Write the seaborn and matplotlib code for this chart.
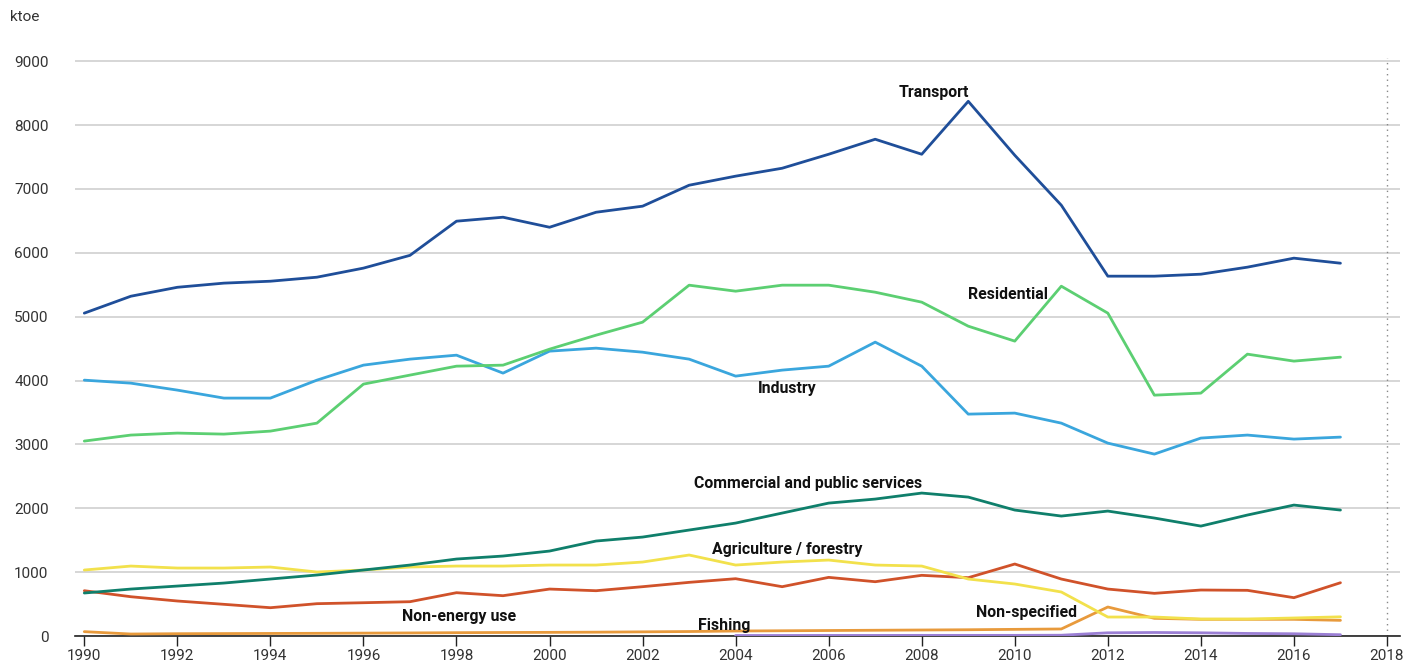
import numpy as np
import pandas as pd
import matplotlib
matplotlib.use("Agg")
import matplotlib.pyplot as plt
import seaborn as sns

years = list(range(1990, 2018))

transport = [5055, 5320, 5460, 5525, 5555, 5618, 5760, 5960, 6495, 6557,
             6400, 6635, 6730, 7058, 7200, 7324, 7543, 7778, 7543, 8372,
             7527, 6745, 5634, 5634, 5665, 5775, 5916, 5837]
residential = [3052, 3146, 3177, 3161, 3208, 3333, 3944, 4085, 4225, 4241,
               4491, 4710, 4914, 5493, 5399, 5493, 5493, 5383, 5227, 4851,
               4617, 5477, 5055, 3771, 3803, 4413, 4304, 4366]
industry = [4006, 3959, 3850, 3725, 3725, 4006, 4241, 4335, 4397, 4116,
            4460, 4507, 4444, 4335, 4069, 4163, 4225, 4601, 4225, 3474,
            3490, 3333, 3020, 2848, 3099, 3146, 3083, 3114]
commercial = [673, 735, 782, 829, 892, 955, 1033, 1111, 1205, 1252,
              1330, 1487, 1549, 1659, 1768, 1925, 2081, 2144, 2238, 2175,
              1972, 1878, 1956, 1847, 1721, 1894, 2050, 1972]
agriculture = [1033, 1095, 1064, 1064, 1080, 1002, 1033, 1080, 1095, 1095,
               1111, 1111, 1158, 1268, 1111, 1158, 1189, 1111, 1095, 892,
               814, 689, 297, 297, 266, 266, 282, 300]
non_energy = [709, 615, 548, 496, 443, 506, 521, 537, 678, 631,
              735, 709, 772, 840, 897, 772, 918, 850, 950, 913,
              1127, 892, 735, 668, 720, 715, 600, 834]
non_specified = [68, 31, 36, 38, 40, 42, 45, 48, 52, 55,
                 57, 60, 65, 70, 78, 82, 86, 90, 94, 98,
                 104, 110, 454, 277, 261, 261, 261, 245]
fishing = [np.nan] * 14 + [8, 8, 9, 9, 10, 10, 10, 12, 50, 55, 50, 40, 35, 20]

series = {
    "Transport": transport,
    "Residential": residential,
    "Industry": industry,
    "Commercial and public services": commercial,
    "Agriculture / forestry": agriculture,
    "Non-energy use": non_energy,
    "Non-specified": non_specified,
    "Fishing": fishing,
}
colors = {
    "Transport": "#1f4e99",
    "Residential": "#5ccf72",
    "Industry": "#3aa6dd",
    "Commercial and public services": "#0f7f6b",
    "Agriculture / forestry": "#f2e14c",
    "Non-energy use": "#d0522a",
    "Non-specified": "#e89a3c",
    "Fishing": "#9b7fd4",
}
# label positions (year, value)
label_pos = {
    "Transport": (2008.25, 8510),
    "Residential": (2009.85, 5340),
    "Industry": (2005.1, 3880),
    "Commercial and public services": (2005.55, 2380),
    "Agriculture / forestry": (2005.1, 1360),
    "Non-energy use": (1998.05, 300),
    "Fishing": (2003.75, 170),
    "Non-specified": (2010.25, 375),
}

df = pd.DataFrame([
    {"year": y, "sector": name, "ktoe": v}
    for name, vals in series.items() for y, v in zip(years, vals)
])

sns.set_theme(style="white")
plt.rcParams["font.family"] = ["Roboto", "DejaVu Sans"]

fig = plt.figure(figsize=(14.1, 6.65), dpi=100)
ax = fig.add_axes([75 / 1410, 29 / 665, 1325 / 1410, (636 - 58) / 665])

sns.lineplot(data=df, x="year", y="ktoe", hue="sector", palette=colors,
             hue_order=list(series.keys())[::-1], linewidth=2, legend=False,
             ax=ax, zorder=3)

for name, (x, y) in label_pos.items():
    ax.text(x, y, name, ha="center", va="center", fontsize=11.4,
            fontweight="bold", color="#111111", zorder=4)

ax.set_xlim(1989.8, 2018.28)
ax.set_ylim(0, 9050)
ax.set_yticks(range(0, 9001, 1000))
ax.set_xticks(range(1990, 2019, 2))
ax.yaxis.grid(True, color="#d0d0d0", linewidth=1.2)
ax.set_axisbelow(True)
ax.axvline(2018, color="#888888", linestyle=(0, (1, 3)), linewidth=1, zorder=1)

for s in ["left", "right", "top"]:
    ax.spines[s].set_visible(False)
ax.spines["bottom"].set_color("#222222")
ax.spines["bottom"].set_linewidth(1.2)
ax.tick_params(axis="x", bottom=True, length=7, width=1, color="#222222",
               labelsize=11, labelcolor="#333333", pad=2)
ax.tick_params(axis="y", left=False, labelsize=11, labelcolor="#333333", pad=13)
ax.set_xlabel("")
ax.set_ylabel("")

fig.text(10 / 1410, 1 - 17 / 665, "ktoe", fontsize=11, color="#333333",
         va="center", ha="left")

fig.savefig("out.png", dpi=100)
